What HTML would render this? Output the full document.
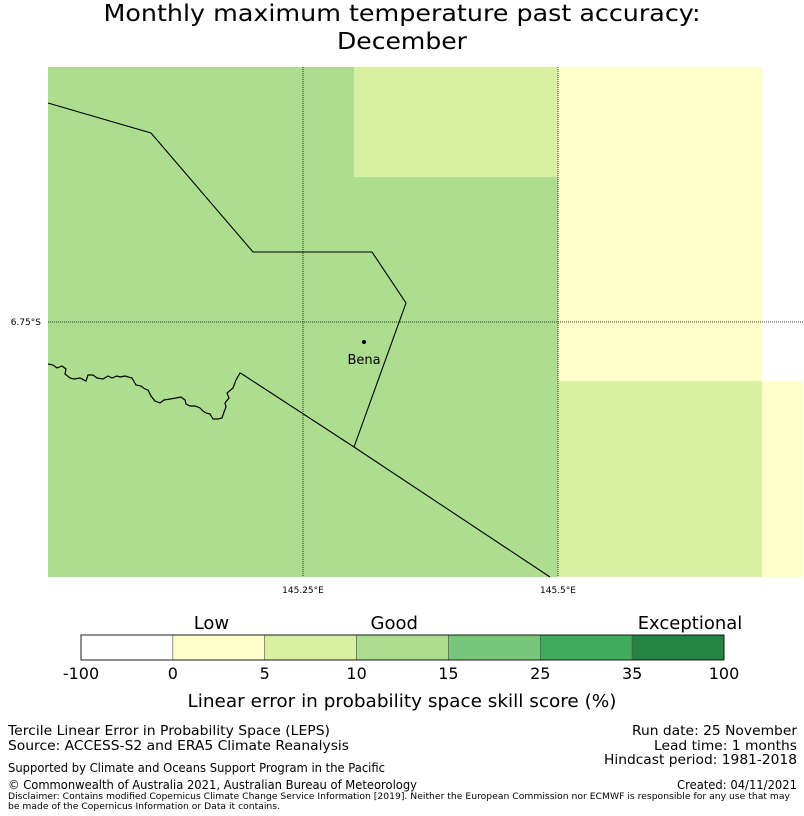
<!DOCTYPE html>
<html><head><meta charset="utf-8"><style>
html,body{margin:0;padding:0;background:#fff;}
svg{display:block;font-family:"DejaVu Sans","Liberation Sans",sans-serif;}
</style></head><body>
<svg id="fig" width="804" height="816" viewBox="0 0 804 816" xmlns="http://www.w3.org/2000/svg">
<text x="402" y="21" font-size="23" text-anchor="middle" textLength="597" lengthAdjust="spacingAndGlyphs">Monthly maximum temperature past accuracy:</text>
<text x="402" y="49" font-size="23" text-anchor="middle" textLength="130" lengthAdjust="spacingAndGlyphs">December</text>
<g id="map">
<rect x="48" y="67" width="510" height="510" fill="#addd8e"/>
<rect x="354" y="67" width="204" height="110" fill="#d9f0a3"/>
<rect x="558" y="67" width="204" height="314" fill="#ffffcc"/>
<rect x="558" y="381" width="204" height="196" fill="#d9f0a3"/>
<rect x="762" y="381" width="41" height="196" fill="#ffffcc"/>
<line x1="303" y1="67" x2="303" y2="577" stroke="#000" stroke-width="0.8" stroke-dasharray="1,1"/>
<line x1="558" y1="67" x2="558" y2="577" stroke="#000" stroke-width="0.8" stroke-dasharray="1,1"/>
<line x1="48" y1="322" x2="803" y2="322" stroke="#000" stroke-width="0.8" stroke-dasharray="1,1"/>
<polyline fill="none" stroke="#000" stroke-width="1.1" points="48,103 151,133 253,252 372,252 406,303 354,447"/>
<polyline fill="none" stroke="#000" stroke-width="1.1" points="242,374 354,447 550,577"/>
<path fill="none" stroke="#000" stroke-width="1.2" d="M48,364 L53,365 L57,368 L62,366 L66,369 L65,374 L70,378 L74,379 L80,378 L86,381 L88,375 L93,375 L97,378 L103,379 L108,376 L112,378 L117,376 L120,377 L125,376 L132,378 L136,385 L141,386 L145,389 L148,390 L151,396 L155,401 L160,403 L164,400 L170,399 L176,398 L181,397 L185,400 L186,404 L190,406 L195,406 L200,408 L203,411 L206,413 L210,414 L213,419 L218,419 L222,418 L224,412 L226,407 L225,403 L229,398 L227,393 L233,388 L236,380 L240,373 L242,374"/>
<circle cx="364" cy="342" r="2" fill="#000"/>
<text x="364" y="364" font-size="13" text-anchor="middle">Bena</text>
<text x="41" y="325" font-size="9" text-anchor="end">6.75°S</text>
<text x="303" y="593" font-size="9" text-anchor="middle">145.25°E</text>
<text x="558" y="593" font-size="9" text-anchor="middle">145.5°E</text>
</g>
<g id="cbar"></g>
<text x="402" y="707" font-size="18" text-anchor="middle" textLength="429" lengthAdjust="spacingAndGlyphs">Linear error in probability space skill score (%)</text>
<g font-size="13">
<text x="8" y="735" textLength="322" lengthAdjust="spacingAndGlyphs">Tercile Linear Error in Probability Space (LEPS)</text>
<text x="8" y="750" textLength="341" lengthAdjust="spacingAndGlyphs">Source: ACCESS-S2 and ERA5 Climate Reanalysis</text>
<text x="8" y="772" font-size="12" textLength="377" lengthAdjust="spacingAndGlyphs">Supported by Climate and Oceans Support Program in the Pacific</text>
<text x="8" y="789" font-size="12" textLength="409" lengthAdjust="spacingAndGlyphs">© Commonwealth of Australia 2021, Australian Bureau of Meteorology</text>
<text x="8" y="799" font-size="9" textLength="782" lengthAdjust="spacingAndGlyphs">Disclaimer: Contains modified Copernicus Climate Change Service Information [2019]. Neither the European Commission nor ECMWF is responsible for any use that may</text>
<text x="8" y="809" font-size="9" textLength="272" lengthAdjust="spacingAndGlyphs">be made of the Copernicus Information or Data it contains.</text>
<text x="797" y="735" text-anchor="end" textLength="165" lengthAdjust="spacingAndGlyphs">Run date: 25 November</text>
<text x="797" y="750" text-anchor="end" textLength="143" lengthAdjust="spacingAndGlyphs">Lead time: 1 months</text>
<text x="797" y="764" text-anchor="end" textLength="193" lengthAdjust="spacingAndGlyphs">Hindcast period: 1981-2018</text>
<text x="797" y="789" font-size="12" text-anchor="end" textLength="120" lengthAdjust="spacingAndGlyphs">Created: 04/11/2021</text>
</g>
</svg>
<script>
const binLabels = ["-100","0","5","10","15","25","35","100"];
const binColors = ["#ffffff","#ffffcc","#d9f0a3","#addd8e","#78c679","#41ab5d","#238443"];
const categoryLabels = ["Low","Good","Exceptional"];
const categoryBins = [1.42,3.41,6.63];
const NS="http://www.w3.org/2000/svg";
const g=document.getElementById('cbar');
const x0=81,x1=724,y0=635,h=25,n=binColors.length,w=(x1-x0)/n;
const xs=i=>x0+i*w;
binColors.forEach((c,i)=>{
 const r=document.createElementNS(NS,'rect');
 
 
 r.setAttribute('x',xs(i));r.setAttribute('y',y0);r.setAttribute('width',w);r.setAttribute('height',h);
 r.setAttribute('fill',c);r.setAttribute('stroke','#555');r.setAttribute('stroke-width','0.6');
 g.appendChild(r);
});
const b=document.createElementNS(NS,'rect');


b.setAttribute('x',x0);b.setAttribute('y',y0);b.setAttribute('width',x1-x0);b.setAttribute('height',h);
b.setAttribute('fill','none');b.setAttribute('stroke','#000');b.setAttribute('stroke-width','0.8');
g.appendChild(b);
binLabels.forEach((l,i)=>{
 const t=document.createElementNS(NS,'text');
 
 
 t.setAttribute('x',xs(i));t.setAttribute('y',679);t.setAttribute('font-size','16');t.setAttribute('text-anchor','middle');
 t.textContent=l;g.appendChild(t);
});
categoryLabels.forEach((l,i)=>{
 const t=document.createElementNS(NS,'text');
 
 
 t.setAttribute('x',xs(categoryBins[i]));t.setAttribute('y',629);t.setAttribute('font-size','18');t.setAttribute('text-anchor','middle');
 t.textContent=l;g.appendChild(t);
});
</script>
</body></html>
